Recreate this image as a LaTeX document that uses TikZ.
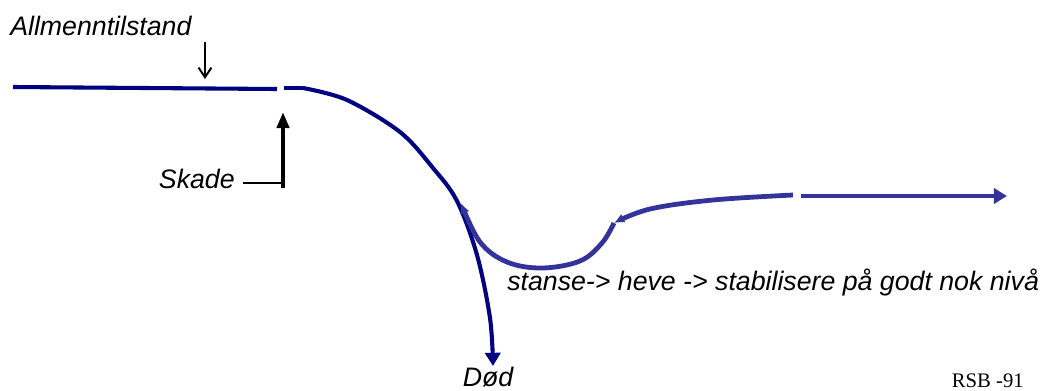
\documentclass[tikz,border=0pt]{standalone}
\usepackage{fontspec}
\setmainfont{Liberation Sans}
\newfontfamily\rsbfont{Liberation Serif}
\usetikzlibrary{arrows.meta}
\definecolor{CurveNavy}{HTML}{000080}
\definecolor{CurveBlue}{HTML}{333399}

\begin{document}
\begin{tikzpicture}[x=0.025cm,y=-0.025cm,
  lab/.style={font=\fontsize{19}{22}\selectfont\itshape,inner sep=0pt},
  navy/.style={draw=CurveNavy,line width=2.9pt,line join=round},
  blue/.style={draw=CurveBlue,line width=3.4pt,line join=round,line cap=butt},
  pointer/.style={draw=black,line width=1.4pt},
  bigtip/.style={-{Triangle[length=3.3mm,width=3.8mm]}},
  smalltip/.style={-{Latex[length=2.6mm,width=2.4mm]}},
]
\useasboundingbox (0,0) rectangle (1040,390);

% labels
\node[lab,anchor=base west] (allm) at (10,35) {Allmenntilstand};
\node[lab,anchor=base east] (skade) at (235,188) {Skade};
\node[lab,anchor=base] (dod) at (488,386) {Død};
\node[lab,anchor=base west] (tiltak) at (507,290) {stanse-> heve -> stabilisere på godt nok nivå};
\node[anchor=base east,inner sep=0pt,font=\rsbfont\fontsize{14.7}{17}\selectfont] (rsb) at (1024,387) {RSB -91};

% points on the course
\coordinate (l0) at (13,87);
\coordinate (l1) at (277,89);
\coordinate (d0) at (284,88);
\coordinate (d1) at (303,88);
\coordinate (d2) at (347,100);
\coordinate (d3) at (400,132);
\coordinate (d4) at (433,168);
\coordinate (d5) at (457,201);
\coordinate (d6) at (477,255);
\coordinate (d7) at (490,318);
\coordinate (dend) at (493,366);
\coordinate (u0) at (461,203);
\coordinate (u1) at (480,242);
\coordinate (u2) at (507,262);
\coordinate (u3) at (542,268);
\coordinate (u4) at (580,261);
\coordinate (u5) at (602,243);
\coordinate (u6) at (614,223);
\coordinate (v1) at (650,209);
\coordinate (v2) at (713,200);
\coordinate (v3) at (793,195);
\coordinate (w0) at (801,196);
\coordinate (w1) at (1007,196);

% general state and the fall
\draw[navy] (l0) -- (l1);
\draw[navy] (d0) -- (d1);
\draw[navy,bigtip] plot[smooth,tension=0.55] coordinates {(d1) (d2) (d3) (d4) (d5) (d6) (d7) (dend)};

% stop, lift, stabilise
\draw[blue,smalltip] plot[smooth,tension=0.6] coordinates {(u6) (u5) (u4) (u3) (u2) (u1) (u0)};
\draw[blue,smalltip] plot[smooth,tension=0.6] coordinates {(v3) (v2) (v1) (u6)};
\draw[blue,bigtip] (w0) -- (w1);

% black pointers
\coordinate (atop) at (205,42);
\coordinate (abot) at (205,79);
\draw[pointer,-{Straight Barb[length=2.4mm,width=3.2mm]}] (atop) -- (abot);
\coordinate (skline) at (243,183);
\coordinate (skfoot) at (283,188);
\coordinate (sktip) at (283,112);
\draw[pointer] (skline) -- (skline -| skfoot);
\draw[draw=black,line width=2.9pt,-{Triangle[length=4mm,width=3mm]}] (skfoot) -- (sktip);
\end{tikzpicture}
\end{document}
